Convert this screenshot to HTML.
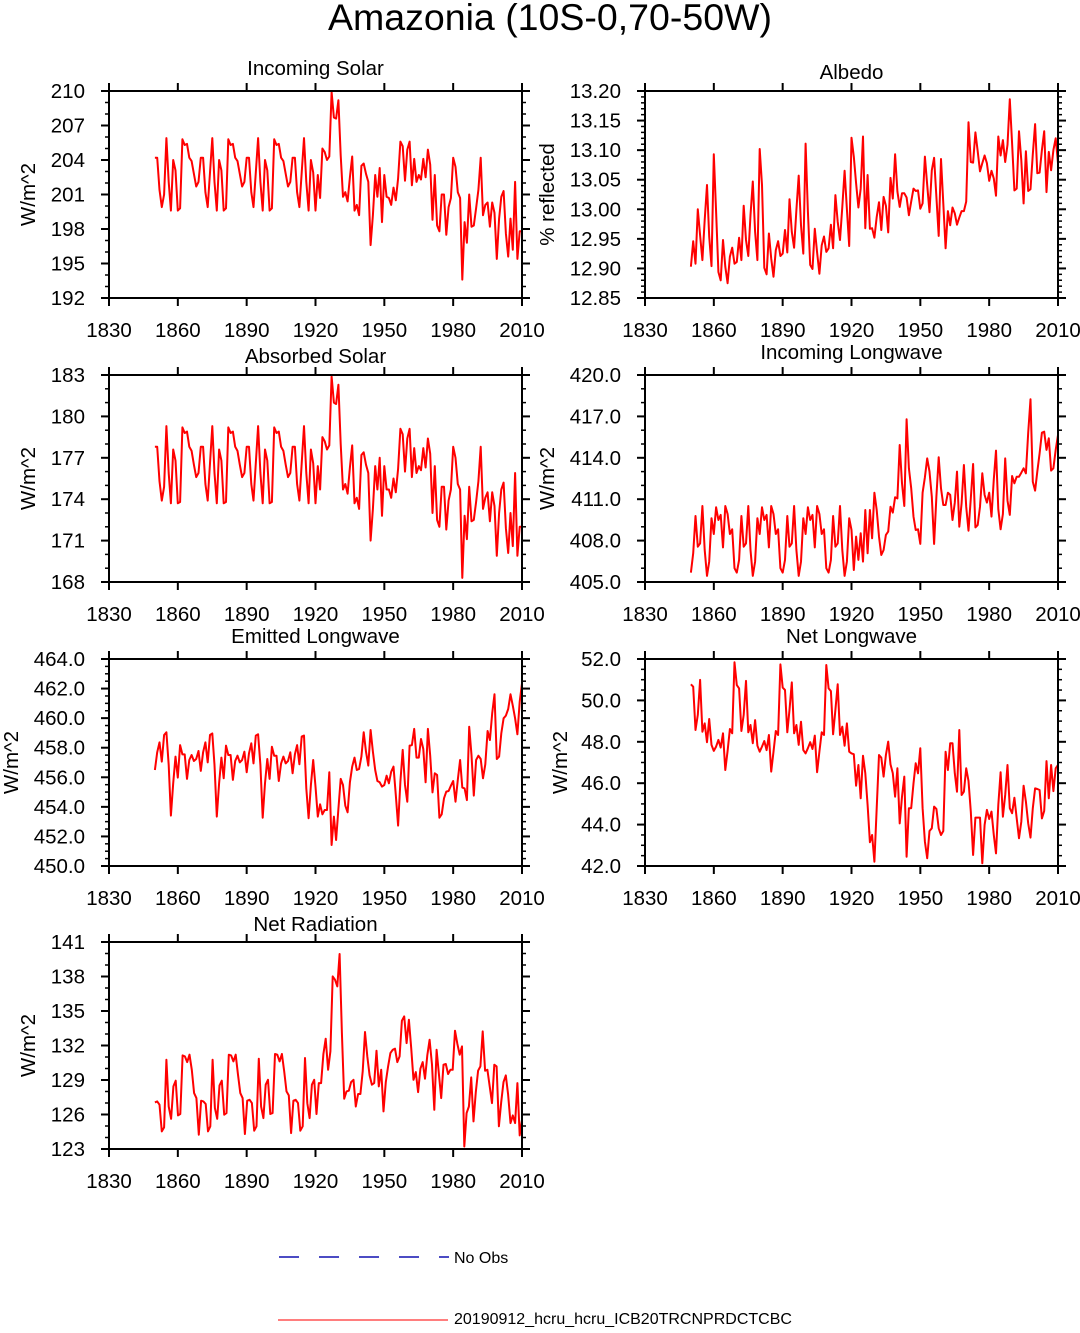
<!DOCTYPE html>
<html><head><meta charset="utf-8"><style>
body{margin:0;background:#fff;}
svg text{font-family:"Liberation Sans",sans-serif;fill:#000;}
</style></head><body>
<svg id="fig" width="1080" height="1328" viewBox="0 0 1080 1328" xmlns="http://www.w3.org/2000/svg">
<text x="550" y="30" font-size="37.5" text-anchor="middle">Amazonia (10S-0,70-50W)</text>
<g>
<line x1="279" y1="1257" x2="449" y2="1257" stroke="#1010b0" stroke-width="1.4" stroke-dasharray="20,20"/>
<text x="454" y="1263" font-size="16">No Obs</text>
<line x1="278" y1="1320" x2="448" y2="1320" stroke="#ff3030" stroke-width="1.2"/>
<text x="454" y="1324" font-size="16">20190912_hcru_hcru_ICB20TRCNPRDCTCBC</text>
</g>
</svg>
<script>
const firstYear = 1850;
const lastYear = 2010;
const xTicks = [1830,1860,1890,1920,1950,1980,2010];

const incomingSolar = [204.2,204.2,201.4,199.9,201.0,
205.9,202.1,199.6,204.0,203.1,199.6,199.8,205.8,205.3,205.4,204.2,203.9,202.8,201.7,202.1,204.2,204.2,201.2,199.9,202.9,
205.9,202.1,199.6,204.0,203.1,199.6,199.8,205.8,205.3,205.4,204.2,203.9,202.8,201.7,202.1,204.2,204.2,201.2,199.9,202.9,
205.9,202.1,199.6,204.0,203.1,199.6,199.8,205.8,205.3,205.4,204.2,203.9,202.8,201.7,202.1,204.2,204.2,201.2,199.9,202.9,
205.9,202.1,199.6,204.0,202.9,199.6,202.7,200.7,205.0,204.7,204.0,204.3,
209.9,207.7,207.6,209.2,204.4,200.8,201.2,200.4,202.5,204.3,199.6,200.1,199.2,203.5,203.7,202.8,202.1,196.6,199.2,202.7,200.8,203.3,198.6,202.7,200.8,200.7,200.1,201.6,200.5,202.4,205.6,205.2,202.2,204.9,205.6,201.8,204.1,202.1,202.7,202.3,204.1,202.5,204.9,203.6,198.8,202.7,198.3,197.8,201.0,201.0,197.5,199.9,200.7,204.2,203.4,201.2,200.7,193.6,198.6,196.8,201.0,198.2,198.3,199.8,201.4,204.2,199.2,200.1,200.3,198.2,200.3,199.4,195.4,198.9,200.8,201.3,197.6,195.6,198.9,196.2,202.1,195.4,197.8,197.8];
const albedo = [12.903,12.946,12.908,13.000,12.956,12.914,12.982,13.041,12.954,12.904,13.093,12.996,12.894,12.880,12.948,12.903,12.875,12.920,12.935,12.908,12.911,12.952,12.914,13.006,12.948,12.921,12.990,13.047,12.962,12.914,13.102,13.041,12.901,12.890,12.959,12.917,12.886,12.931,12.946,12.921,12.925,12.965,12.927,13.017,12.962,12.935,12.999,13.057,12.973,12.925,13.111,12.996,12.906,12.899,12.967,12.927,12.891,12.939,12.954,12.928,12.934,12.974,12.934,13.024,12.979,12.948,13.004,13.065,13.000,12.938,13.121,13.089,13.044,13.003,13.035,13.123,12.968,13.058,12.967,12.968,12.952,12.987,13.012,12.965,13.021,13.006,12.961,13.053,13.018,13.093,13.030,13.004,13.027,13.027,13.020,12.990,13.013,13.035,13.031,13.032,13.001,13.010,13.089,13.041,12.995,13.066,13.087,13.021,12.955,13.085,13.010,12.934,12.997,12.973,13.003,12.993,12.974,12.986,12.997,12.997,13.013,13.147,13.080,13.079,13.130,13.098,13.064,13.078,13.091,13.078,13.048,13.065,13.052,13.023,13.123,13.091,13.117,13.080,13.109,13.186,13.111,13.032,13.035,13.132,13.083,13.010,13.098,13.031,13.034,13.093,13.144,13.061,13.062,13.100,13.132,13.029,13.097,13.066,13.100,13.120,13.078];
const absorbedSolar = [177.8,177.8,175.3,173.9,174.9,
179.3,175.9,173.7,177.6,176.8,173.7,173.8,179.2,178.8,178.9,177.8,177.5,176.5,175.6,175.9,177.8,177.8,175.1,173.9,176.6,
179.3,175.9,173.7,177.6,176.8,173.7,173.8,179.2,178.8,178.9,177.8,177.5,176.5,175.6,175.9,177.8,177.8,175.1,173.9,176.6,
179.3,175.9,173.7,177.6,176.8,173.7,173.8,179.2,178.8,178.9,177.8,177.5,176.5,175.6,175.9,177.8,177.8,175.1,173.9,176.6,
179.3,175.9,173.7,177.6,176.6,173.7,176.4,174.7,178.5,178.2,177.6,177.9,
182.9,181.0,180.9,182.3,178.0,174.7,175.1,174.4,176.3,177.9,173.7,174.1,173.3,177.2,177.4,176.5,175.9,171.0,173.3,176.4,174.7,177.0,172.8,176.4,174.7,174.7,174.1,175.5,174.5,176.2,179.1,178.7,176.0,178.4,179.1,175.6,177.7,175.9,176.4,176.1,177.7,176.3,178.4,177.3,173.0,176.4,172.5,172.0,174.9,174.9,171.8,173.9,174.7,177.8,177.0,175.1,174.7,168.3,172.8,171.1,174.9,172.4,172.5,173.8,175.3,177.8,173.3,174.1,174.5,172.4,174.5,173.5,169.9,173.0,174.7,175.2,171.9,170.1,173.0,170.6,175.9,169.9,172.0,172.0];
const incomingLongwave = [405.68,407.08,409.78,407.56,407.80,410.51,407.32,405.44,406.48,409.62,408.48,410.41,409.49,409.86,407.51,410.51,409.93,408.48,408.82,406.00,405.68,406.60,409.78,407.56,407.80,410.51,407.32,405.44,406.48,409.62,408.48,410.41,409.49,409.86,407.51,410.51,409.93,408.48,408.82,406.00,405.68,406.60,409.78,407.56,407.80,410.51,407.32,405.44,406.48,409.62,408.48,410.41,409.49,409.86,407.51,410.51,409.93,408.48,408.82,406.00,405.68,406.60,409.78,407.56,407.80,410.51,407.32,405.44,406.48,409.62,408.77,405.87,408.29,406.60,408.53,406.48,410.22,407.08,410.22,408.17,411.47,410.22,408.29,406.96,407.32,408.41,408.65,410.46,410.03,411.14,411.06,414.93,412.15,410.51,416.79,413.24,411.79,409.74,408.77,408.82,407.76,411.47,412.59,413.96,413.00,411.19,407.76,411.19,414.04,411.79,410.58,410.58,411.47,411.31,409.49,410.75,413.00,409.01,410.70,413.48,410.46,408.72,411.06,413.55,408.96,409.13,410.46,412.88,411.31,410.75,411.47,409.74,412.44,414.52,410.27,408.82,409.93,413.96,410.90,409.86,412.68,412.15,412.63,412.63,412.92,413.24,412.88,415.82,418.24,412.27,411.62,413.00,414.32,415.82,415.89,414.57,415.41,413.07,413.24,414.57,415.65];
const emittedLongwave = [456.49,457.69,458.36,457.06,458.86,459.04,456.83,453.41,455.59,457.40,455.98,458.18,457.55,457.55,455.89,457.17,457.51,457.10,457.24,457.78,456.43,457.69,458.36,457.01,458.86,458.97,456.83,453.34,455.59,457.33,455.93,458.14,457.51,457.51,455.82,457.10,457.46,457.01,457.17,457.73,456.34,457.62,458.30,456.94,458.82,458.91,456.83,453.27,455.59,457.24,455.89,458.07,457.46,457.46,455.75,456.94,457.40,456.94,457.10,457.69,456.27,457.55,458.18,456.88,458.75,458.82,455.25,453.23,455.48,457.17,455.37,453.34,454.17,453.50,453.79,453.79,456.34,451.42,453.34,451.76,453.86,455.89,455.48,454.08,453.63,455.66,456.72,457.33,456.49,456.56,457.40,459.04,457.73,456.79,459.20,457.73,456.49,455.75,455.66,455.37,455.48,456.11,455.59,456.38,456.72,454.80,452.73,455.71,457.85,455.48,454.35,458.14,458.18,459.27,457.33,457.33,458.59,457.91,455.66,459.27,457.46,454.98,456.27,456.16,453.27,453.50,454.58,455.03,455.07,455.43,455.75,454.35,455.82,457.17,455.30,455.25,454.46,459.42,457.51,454.76,457.17,457.46,457.24,455.93,456.88,459.13,458.52,460.33,461.61,457.24,457.40,458.97,459.99,460.17,460.62,461.61,460.84,459.99,458.91,461.11,462.35];
const netLongwave = [50.78,50.66,48.57,49.30,50.99,48.49,48.89,47.98,49.10,47.85,47.56,47.77,48.09,47.72,48.41,46.64,47.56,48.62,48.41,51.84,50.74,50.58,48.52,49.30,50.94,48.46,48.81,47.93,49.05,47.81,47.52,47.77,48.04,47.60,48.33,46.56,47.52,48.52,48.33,51.74,50.62,50.50,48.46,49.54,50.87,48.41,48.81,47.85,48.97,47.60,47.44,47.69,47.98,47.65,48.30,46.53,47.52,48.46,48.33,51.71,50.58,50.45,48.36,49.54,50.78,48.33,48.73,47.81,48.89,47.52,47.44,47.40,45.88,46.88,45.27,47.33,46.48,44.95,43.15,43.50,42.21,44.79,47.36,47.23,46.32,47.36,48.01,46.91,46.48,45.35,46.72,44.06,45.35,46.32,42.45,44.79,44.79,45.99,46.96,46.48,47.69,44.79,43.18,42.37,43.69,43.82,44.87,44.76,43.82,43.50,43.69,47.52,46.64,47.93,47.93,46.48,45.59,48.57,45.43,45.59,46.72,46.11,44.63,42.53,44.34,44.34,44.34,42.13,43.98,44.71,44.27,44.63,43.50,42.61,44.95,46.53,44.38,45.43,46.88,44.79,44.55,45.30,44.30,43.34,44.14,45.88,45.11,44.06,43.37,44.79,45.75,45.72,45.67,44.30,44.66,47.07,45.27,46.88,45.62,46.72,46.88];
const netRadiation = [127.05,127.14,126.85,124.53,124.88,130.76,126.70,125.63,128.44,128.94,125.92,126.04,131.14,131.05,130.56,131.20,129.89,127.86,127.43,124.24,127.20,127.14,126.91,124.53,124.97,130.76,126.56,125.63,128.53,128.94,125.98,126.12,131.20,131.14,130.62,131.20,129.46,127.86,127.43,124.30,127.20,127.28,126.99,124.59,124.97,130.85,126.70,125.69,128.59,129.02,126.04,126.12,131.26,131.20,130.62,131.26,129.75,128.01,127.66,124.38,127.20,127.28,126.99,124.59,124.97,130.91,126.99,125.69,128.59,129.02,126.04,128.73,128.73,131.26,132.59,129.89,131.49,138.01,137.72,137.14,139.96,133.08,127.37,128.01,128.07,128.82,129.02,126.70,127.78,127.78,129.75,133.17,131.05,129.40,128.59,128.73,131.55,128.44,129.89,126.27,128.82,130.18,131.34,131.63,131.72,130.56,131.05,134.16,134.53,132.21,134.24,131.78,129.02,129.69,127.95,129.98,130.56,129.11,131.14,132.50,130.33,126.41,131.63,129.52,127.43,130.33,130.39,129.52,129.89,129.89,133.29,132.12,131.20,131.92,123.22,126.12,126.70,129.23,125.40,127.95,129.81,130.18,133.23,129.81,129.89,128.44,126.99,130.33,130.18,124.97,127.08,128.82,129.40,127.75,125.25,125.92,125.25,128.73,124.18,125.54];

const p1Ticks = [192,195,198,201,204,207,210];
const p2Ticks = [12.85,12.90,12.95,13.00,13.05,13.10,13.15,13.20];
const p3Ticks = [168,171,174,177,180,183];
const p4Ticks = [405,408,411,414,417,420];
const p5Ticks = [450,452,454,456,458,460,462,464];
const p6Ticks = [42,44,46,48,50,52];
const p7Ticks = [123,126,129,132,135,138,141];

const NS = "http://www.w3.org/2000/svg";
const svg = document.getElementById('fig');
function mk(tag, attrs, parent){const e=document.createElementNS(NS,tag);for(const k in attrs)e.setAttribute(k,attrs[k]);(parent||svg).appendChild(e);return e;}

const panels = [
 {key:'incoming-solar',title:'Incoming Solar',titleY:75,ylab:'W/m^2',x0:109,y0:91,data:incomingSolar,ticks:p1Ticks,minor:1,dec:0,labX:28},
 {key:'albedo',title:'Albedo',titleY:79,ylab:'% reflected',x0:645,y0:91,data:albedo,ticks:p2Ticks,minor:0.01,dec:2,labX:547},
 {key:'absorbed-solar',title:'Absorbed Solar',titleY:363,ylab:'W/m^2',x0:109,y0:375,data:absorbedSolar,ticks:p3Ticks,minor:1,dec:0,labX:28},
 {key:'incoming-longwave',title:'Incoming Longwave',titleY:359,ylab:'W/m^2',x0:645,y0:375,data:incomingLongwave,ticks:p4Ticks,minor:1,dec:1,labX:547},
 {key:'emitted-longwave',title:'Emitted Longwave',titleY:643,ylab:'W/m^2',x0:109,y0:659,data:emittedLongwave,ticks:p5Ticks,minor:0.5,dec:1,labX:11},
 {key:'net-longwave',title:'Net Longwave',titleY:643,ylab:'W/m^2',x0:645,y0:659,data:netLongwave,ticks:p6Ticks,minor:0.5,dec:1,labX:560},
 {key:'net-radiation',title:'Net Radiation',titleY:931,ylab:'W/m^2',x0:109,y0:942,data:netRadiation,ticks:p7Ticks,minor:1,dec:0,labX:28}
];
const W=413,H=207;

panels.forEach(p=>{
  const g=mk('g',{});
  
  
  const ymin=p.ticks[0], ymax=p.ticks[p.ticks.length-1];
  const xs=v=>p.x0+(v-xTicks[0])/(xTicks[xTicks.length-1]-xTicks[0])*W;
  const ys=v=>p.y0+H-(v-ymin)/(ymax-ymin)*H;
  const t=mk('text',{x:p.x0+W/2,y:p.titleY,'font-size':20.5,'text-anchor':'middle'},g);
  t.textContent=p.title;
  
  
  const yl=mk('text',{x:0,y:0,'font-size':20.5,'text-anchor':'middle',transform:`translate(${p.labX+7},${p.y0+H/2}) rotate(-90)`},g);
  yl.textContent=p.ylab;
  
  
  const nMin=Math.round((ymax-ymin)/p.minor);
  for(let i=0;i<=nMin;i++){
    const y=ys(ymin+i*p.minor);
    mk('line',{x1:p.x0-4,y1:y,x2:p.x0,y2:y,stroke:'#000','stroke-width':1.5},g);
    mk('line',{x1:p.x0+W,y1:y,x2:p.x0+W+4,y2:y,stroke:'#000','stroke-width':1.5},g);
  }
  p.ticks.forEach(v=>{
    const y=ys(v);
    mk('line',{x1:p.x0-8,y1:y,x2:p.x0,y2:y,stroke:'#000','stroke-width':2},g);
    mk('line',{x1:p.x0+W,y1:y,x2:p.x0+W+8,y2:y,stroke:'#000','stroke-width':2},g);
    const tl=mk('text',{x:p.x0-24,y:y+7,'font-size':20.5,'text-anchor':'end'},g);
    tl.textContent=v.toFixed(p.dec);
    
    
  });
  xTicks.forEach(v=>{
    const x=xs(v);
    mk('line',{x1:x,y1:p.y0-8,x2:x,y2:p.y0,stroke:'#000','stroke-width':2},g);
    mk('line',{x1:x,y1:p.y0+H,x2:x,y2:p.y0+H+8,stroke:'#000','stroke-width':2},g);
    const tl=mk('text',{x:x,y:p.y0+H+39,'font-size':20.5,'text-anchor':'middle'},g);
    tl.textContent=String(v);
    
    
  });
  const n=p.data.length;
  const pts=p.data.map((v,i)=>xs(firstYear+i*(lastYear-firstYear)/(n-1)).toFixed(1)+','+ys(v).toFixed(1)).join(' ');
  const line=mk('polyline',{points:pts,fill:'none',stroke:'#ff0000','stroke-width':2,'stroke-linejoin':'round'},g);
  
  
  const frame=mk('rect',{x:p.x0,y:p.y0,width:W,height:H,fill:'none',stroke:'#000','stroke-width':2},g);
  
  
});
</script>
</body></html>
